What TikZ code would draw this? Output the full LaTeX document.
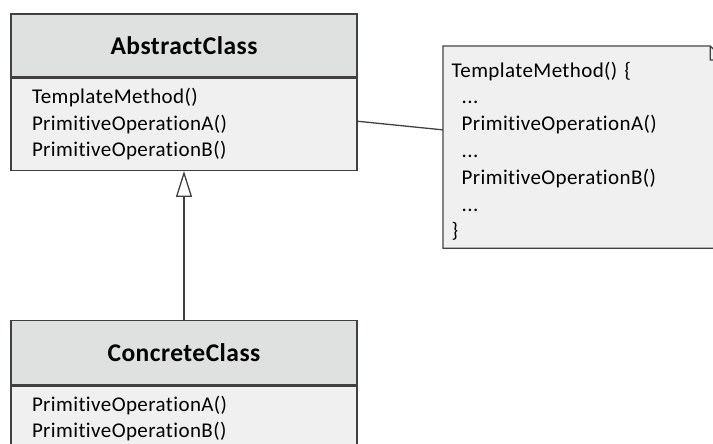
\documentclass[tikz,border=0pt]{standalone}
\usepackage{fontspec}
\setmainfont{Carlito}[Ligatures=NoCommon, LetterSpace=1.9]
\usetikzlibrary{positioning,arrows.meta}

\definecolor{headgray}{RGB}{223,224,224}
\definecolor{bodygray}{RGB}{240,240,240}
\definecolor{linegray}{RGB}{64,64,64}

\begin{document}
\begin{tikzpicture}%
		[x=1pt, y=-1pt,
		node distance=0pt,
		inherit/.style={-{Triangle[open,length=26pt,width=16pt]}, line width=1.3pt, draw=linegray},
		every node/.style={line width=1.3pt, draw=linegray}
		]
		\tikzstyle{head}=[rectangle, fill=headgray, minimum width=346pt, minimum height=63pt, inner sep=0pt, font=\fontsize{25.5}{30}\selectfont\bfseries]
		\tikzstyle{body}=[rectangle, fill=bodygray, text width=304pt, inner xsep=21pt, inner ysep=0pt, align=left, font=\fontsize{21}{26.6}\selectfont]
		\useasboundingbox (0,0) rectangle (713,444);
		\clip (0,0) rectangle (713,444);
		
		% the two classes
		\node[head] (abstracthead) at (184,45.5) {AbstractClass};
		\node[body, minimum height=92pt] (abstractbody) [below=of abstracthead]
			{TemplateMethod()\\PrimitiveOperationA()\\PrimitiveOperationB()};
		\node[head, minimum height=64pt] (concretehead) [below=149pt of abstractbody] {ConcreteClass};
		\node[body, minimum height=65pt] (concretebody) [below=of concretehead]
			{PrimitiveOperationA()\\PrimitiveOperationB()};
		
		% the note with its folded corner
		\node[draw=none, fill=bodygray, anchor=north west, minimum width=280pt, minimum height=201pt]
			(note) at (443,46) {};
		\node[draw=none, anchor=north west, text width=262pt, inner xsep=8pt, inner ysep=15pt,
			align=left, font=\fontsize{21}{26.8}\selectfont]
			(notetext) at (note.north west)
			{TemplateMethod() \{\\
			\hspace*{10pt}...\\
			\hspace*{10pt}PrimitiveOperationA()\\
			\hspace*{10pt}...\\
			\hspace*{10pt}PrimitiveOperationB()\\
			\hspace*{10pt}...\\
			\}};
		\draw[line width=1.3pt, draw=linegray]
			(note.north east) ++(-14,0) coordinate (fold)
			(note.north west) -- (fold) -- ++(14,14) -- (note.south east) -- (note.south west) -- cycle
			(fold) -- ++(0,14) -- ++(14,0);
		
		\path
		%   FROM          STYLE                TO
		(concretehead) edge[inherit]     (abstractbody)
		(abstractbody.1) edge[line width=1.3pt, draw=linegray] (note.173)
		;
		\end{tikzpicture}
\end{document}
